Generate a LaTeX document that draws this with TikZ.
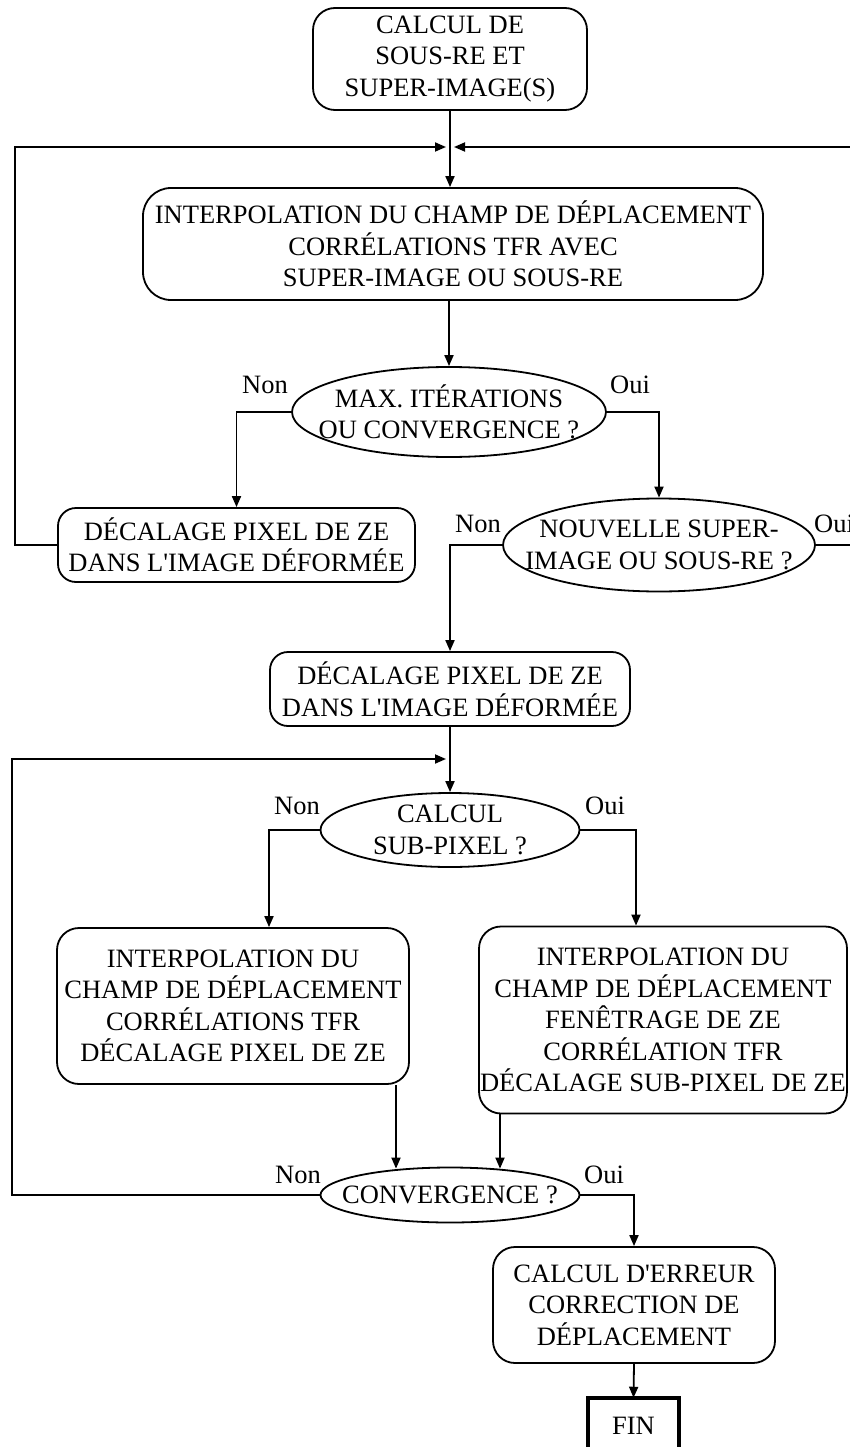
\documentclass[tikz,border=0pt]{standalone}
\usepackage{fontspec}
\setmainfont{Liberation Serif}
\usetikzlibrary{arrows.meta,shapes.geometric}
\newcommand\dgfont{\fontsize{26.5}{31.5}\selectfont}
\begin{document}
\begin{tikzpicture}[x=1pt,y=-1pt,
  box/.style={draw, line width=1.8pt, rounded corners=22pt, inner sep=0pt, align=center, font=\dgfont},
  dec/.style={draw, ellipse, line width=1.8pt, inner sep=0pt},
  lab/.style={font=\dgfont, inner sep=0pt, align=center},
  arr/.style={line width=1.8pt, -{Triangle[length=11pt,width=9pt]}},
  ln/.style={line width=1.8pt}]
\useasboundingbox (0,0) rectangle (850,1447);
\clip (0,0) rectangle (850,1447);

% nodes
\node[box, minimum width=274, minimum height=102] (n1) at (450,59)
  {CALCUL DE\\SOUS-RE ET\\SUPER-IMAGE(S)};
\node[box, minimum width=620, minimum height=112, rounded corners=28pt] (n2) at (453,244)
  {INTERPOLATION DU CHAMP DE DÉPLACEMENT\\CORRÉLATIONS TFR AVEC\\SUPER-IMAGE OU SOUS-RE};
\node[dec, minimum width=314, minimum height=90,
  label={[lab]center:{MAX. ITÉRATIONS\\OU CONVERGENCE ?}}] (d1) at (449,412) {};
\node[box, minimum width=357, minimum height=74, rounded corners=18pt] (b3) at (236.5,545)
  {DÉCALAGE PIXEL DE ZE\\DANS L\textquotesingle IMAGE DÉFORMÉE};
\node[dec, minimum width=312, minimum height=93,
  label={[lab]center:{NOUVELLE SUPER-\\IMAGE OU SOUS-RE ?}}] (d2) at (659,545) {};
\node[box, minimum width=360, minimum height=74, rounded corners=18pt] (b4) at (450,689)
  {DÉCALAGE PIXEL DE ZE\\DANS L\textquotesingle IMAGE DÉFORMÉE};
\node[dec, minimum width=259, minimum height=74,
  label={[lab]center:{CALCUL\\SUB-PIXEL ?}}] (d3) at (450,830) {};
\node[box, minimum width=352, minimum height=156] (b5) at (233,1006)
  {INTERPOLATION DU\\CHAMP DE DÉPLACEMENT\\CORRÉLATIONS TFR\\DÉCALAGE PIXEL DE ZE};
\node[box, minimum width=368, minimum height=187] (b6) at (663,1020)
  {INTERPOLATION DU\\CHAMP DE DÉPLACEMENT\\FENÊTRAGE DE ZE\\CORRÉLATION TFR\\DÉCALAGE SUB-PIXEL DE ZE};
\node[dec, minimum width=259, minimum height=55,
  label={[lab]center:{CONVERGENCE ?}}] (d4) at (450,1195) {};
\node[box, minimum width=282, minimum height=116] (b7) at (634,1305)
  {CALCUL D\textquotesingle ERREUR\\CORRECTION DE\\DÉPLACEMENT};
\node[draw, line width=4.5pt, minimum width=91, minimum height=56, inner sep=0pt, font=\dgfont] (fin) at (633.5,1426) {FIN};

% labels
\node[lab] (l1n) at (265,385) {Non};
\node[lab] (l1o) at (630,385) {Oui};
\node[lab] (l2n) at (478,524) {Non};
\node[lab] (l2o) at (834,524) {Oui};
\node[lab] (l3n) at (297,806) {Non};
\node[lab] (l3o) at (605,806) {Oui};
\node[lab] (l4n) at (298,1175) {Non};
\node[lab] (l4o) at (604,1175) {Oui};

% junction coordinates
\coordinate (ml) at (446,147);
\coordinate (mr) at (454,147);
\coordinate (lx1) at (15,545);
\coordinate (rx1) at (880,545);
\coordinate (ml2) at (446,759);
\coordinate (lx2) at (12,1195);

% connectors
\draw[arr] (n1.south) -- (n1.south |- n2.north);
\draw[arr] (b3.west) -- (lx1) |- (ml);
\draw[arr] (d2.east) -- (rx1) |- (mr);
\draw[arr] (d1.north |- n2.south) -- (d1.north);
\draw[arr] (d1.west) -| (b3.north);
\draw[arr] (d1.east) -| (d2.north);
\draw[arr] (d2.west) -| (b4.north);
\draw[arr] (b4.south) -- (d3.north);
\draw[arr] (d4.west) -- (lx2) |- (ml2);
\draw[arr] (d3.west) -| ([xshift=36pt]b5.north);
\draw[arr] (d3.east) -| ([xshift=-27pt]b6.north);
\draw[arr] ([xshift=163pt]b5.south) -- ([xshift=-54pt,yshift=-2pt]d4.north);
\draw[arr] ([xshift=-163pt]b6.south) -- ([xshift=50pt,yshift=-2pt]d4.north);
\draw[arr] (d4.east) -| (b7.north);
\draw[arr] (b7.south) -- ([yshift=-2pt]fin.north);
\end{tikzpicture}
\end{document}
